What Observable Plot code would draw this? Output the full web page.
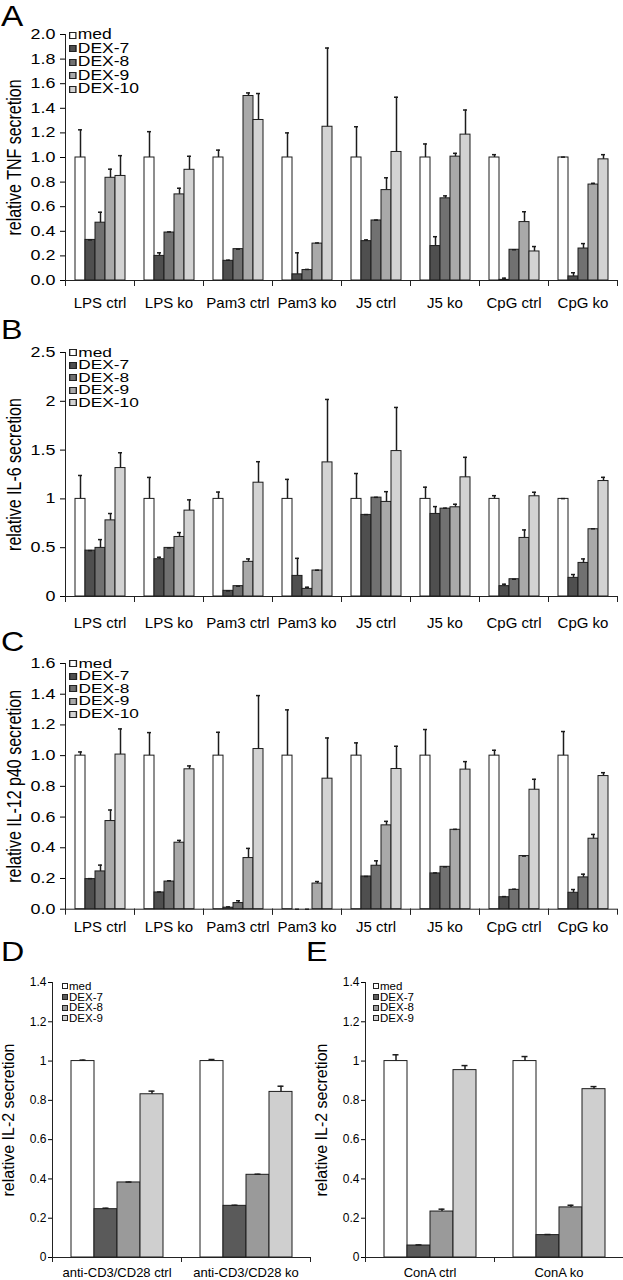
<!DOCTYPE html>
<html>
<head>
<meta charset="utf-8">
<script src="https://cdn.jsdelivr.net/npm/d3@7"></script>
<script src="https://cdn.jsdelivr.net/npm/@observablehq/plot@0.6"></script>
<style>
  html, body { margin: 0; padding: 0; background: #fff; }
  #root { position: relative; width: 623px; height: 1280px; overflow: hidden; background: #fff;
          font-family: "Liberation Sans", Arial, Helvetica, sans-serif; color: #000; }
  .panel { position: absolute; }
  .letter { position: absolute; line-height: 1; transform-origin: left top; }
  .legend { position: absolute; transform-origin: left top; white-space: nowrap; }
  .legend .row { display: flex; align-items: center; }
  .legend .sw { box-sizing: border-box; border: 1px solid #222; margin-right: 1px; flex: none; }
</style>
</head>
<body>
<div id="root"></div>
<script>
// ---------------- data ----------------
const tlrGroups = ["LPS ctrl", "LPS ko", "Pam3 ctrl", "Pam3 ko", "J5 ctrl", "J5 ko", "CpG ctrl", "CpG ko"];
const dexSeries5 = ["med", "DEX-7", "DEX-8", "DEX-9", "DEX-10"];
const dexColors5 = ["#ffffff", "#4f4f4f", "#717171", "#a9a9a9", "#d3d3d3"];

// panel A: relative TNF secretion (rows = groups, columns = series)
const tnfMean = [
  [1, 0.33, 0.47, 0.835, 0.85],
  [1, 0.20, 0.39, 0.70, 0.90],
  [1, 0.16, 0.255, 1.50, 1.305],
  [1, 0.05, 0.085, 0.30, 1.25],
  [1, 0.32, 0.488, 0.735, 1.045],
  [1, 0.28, 0.668, 1.007, 1.186],
  [1, 0.005, 0.25, 0.475, 0.236],
  [1, 0.033, 0.26, 0.78, 0.985]
];
const tnfErr = [
  [0.225, 0, 0.085, 0.07, 0.165],
  [0.21, 0.025, 0.005, 0.05, 0.11],
  [0.06, 0.005, 0, 0.025, 0.215],
  [0.2, 0.175, 0.005, 0.005, 0.64],
  [0.25, 0.01, 0.003, 0.10, 0.445],
  [0.11, 0.076, 0.02, 0.027, 0.2],
  [0.023, 0.014, 0, 0.084, 0.04],
  [0.003, 0.03, 0.04, 0.01, 0.038]
];
const tnfTicks = [0, 0.2, 0.4, 0.6, 0.8, 1.0, 1.2, 1.4, 1.6, 1.8, 2.0];

// panel B: relative IL-6 secretion
const il6Mean = [
  [1, 0.47, 0.498, 0.78, 1.316],
  [1, 0.382, 0.498, 0.61, 0.88],
  [1, 0.058, 0.106, 0.355, 1.166],
  [1, 0.211, 0.078, 0.266, 1.374],
  [1, 0.836, 1.013, 0.969, 1.49],
  [1, 0.846, 0.90, 0.914, 1.221],
  [1, 0.106, 0.177, 0.60, 1.027],
  [1, 0.191, 0.344, 0.689, 1.183]
];
const il6Err = [
  [0.24, 0, 0.085, 0.07, 0.157],
  [0.22, 0.02, 0, 0.045, 0.11],
  [0.07, 0, 0, 0.03, 0.215],
  [0.2, 0.18, 0.017, 0.003, 0.645],
  [0.26, 0.003, 0.003, 0.105, 0.447],
  [0.12, 0.075, 0.005, 0.031, 0.205],
  [0.033, 0.02, 0, 0.082, 0.041],
  [0.003, 0.034, 0.041, 0.005, 0.038]
];
const il6Ticks = [0, 0.5, 1, 1.5, 2, 2.5];

// panel C: relative IL-12 p40 secretion
const il12Mean = [
  [1, 0.196, 0.246, 0.574, 1.007],
  [1, 0.109, 0.18, 0.433, 0.911],
  [1, 0.01, 0.04, 0.333, 1.043],
  [1, 0, 0, 0.167, 0.85],
  [1, 0.213, 0.283, 0.546, 0.913],
  [1, 0.233, 0.276, 0.517, 0.909],
  [1, 0.078, 0.126, 0.346, 0.778],
  [1, 0.107, 0.207, 0.459, 0.867]
];
const il12Err = [
  [0.024, 0.003, 0.041, 0.072, 0.167],
  [0.15, 0.003, 0.005, 0.015, 0.022],
  [0.152, 0.005, 0.015, 0.063, 0.348],
  [0.298, 0, 0, 0.013, 0.265],
  [0.083, 0, 0.032, 0.026, 0.148],
  [0.17, 0.003, 0, 0.003, 0.052],
  [0.035, 0.004, 0.004, 0, 0.068],
  [0.157, 0.021, 0.021, 0.028, 0.022]
];
const il12Ticks = [0, 0.2, 0.4, 0.6, 0.8, 1.0, 1.2, 1.4, 1.6];

// panels D and E: relative IL-2 secretion
const dexSeries4 = ["med", "DEX-7", "DEX-8", "DEX-9"];
const dexColors4 = ["#ffffff", "#5a5a5a", "#9a9a9a", "#cfcfcf"];
const tcellGroupsD = ["anti-CD3/CD28 ctrl", "anti-CD3/CD28 ko"];
const il2MeanD = [[1, 0.246, 0.382, 0.831], [1, 0.263, 0.421, 0.843]];
const il2ErrD = [[0.005, 0.005, 0.002, 0.016], [0.008, 0.003, 0.003, 0.029]];
const tcellGroupsE = ["ConA ctrl", "ConA ko"];
const il2MeanE = [[1, 0.061, 0.234, 0.954], [1, 0.114, 0.255, 0.857]];
const il2ErrE = [[0.032, 0.003, 0.012, 0.023], [0.023, 0.003, 0.011, 0.013]];
const il2Ticks = [0, 0.2, 0.4, 0.6, 0.8, 1, 1.2, 1.4];

// ---------------- drawing ----------------
const root = document.getElementById("root");
const FONT = "'Liberation Sans', Arial, Helvetica, sans-serif";

function rowsOf(groups, series, mean, err) {
  const rows = [];
  groups.forEach((g, gi) => series.forEach((s, si) => {
    rows.push({group: g, series: s, value: mean[gi][si], upper: mean[gi][si] + err[gi][si]});
  }));
  return rows;
}

function panel(cfg) {
  const rows = rowsOf(cfg.groups, cfg.series, cfg.mean, cfg.err);
  const plotH = cfg.height - cfg.mt - cfg.mb;
  const svg = Plot.plot({
    width: cfg.width, height: cfg.height,
    marginLeft: cfg.ml, marginRight: cfg.mr, marginTop: cfg.mt, marginBottom: cfg.mb,
    style: {fontFamily: FONT, fontSize: cfg.tickFont + "px", color: "#000", background: "transparent", overflow: "visible"},
    fx: {domain: cfg.groups, padding: 0, axis: "bottom", label: null, tickSize: 0, tickPadding: cfg.catPad},
    x: {domain: cfg.series, paddingInner: 0, paddingOuter: cfg.po, axis: null},
    y: {domain: [0, cfg.ticks[cfg.ticks.length - 1]], ticks: cfg.ticks, tickFormat: cfg.fmt,
        tickSize: cfg.tickSize, tickPadding: cfg.tickPad,
        label: cfg.label, labelAnchor: "center", labelArrow: "none", labelOffset: cfg.labelOffset},
    color: {domain: cfg.series, range: cfg.colors},
    marks: [
      Plot.barY(rows, {fx: "group", x: "series", y: "value", fill: "series", stroke: "#1c1c1c", strokeWidth: 1}),
      Plot.ruleX(rows, {fx: "group", x: "series", y1: "value", y2: "upper", stroke: "#1c1c1c", strokeWidth: 1.5}),
      Plot.tickY(rows, {fx: "group", x: "series", y: "upper", stroke: "#1c1c1c", strokeWidth: 1.5, insetLeft: cfg.capInset, insetRight: cfg.capInset}),
      Plot.ruleY([0], {stroke: "#222"}),
      // y-axis line, drawn in the first facet only
      Plot.frame({anchor: "left", fx: () => cfg.groups[0], stroke: "#222", strokeWidth: 1}),
      // category separators below the baseline
      Plot.frame({anchor: "left", insetTop: plotH, insetBottom: -cfg.sepLen, stroke: "#222"}),
      Plot.frame({anchor: "right", insetTop: plotH, insetBottom: -cfg.sepLen, stroke: "#222"})
    ]
  });
  const sel = d3.select(svg);
  if (cfg.stretch && cfg.stretch !== 1) {
    sel.selectAll('g[aria-label="y-axis tick label"] text').each(function() {
      const t = this.getAttribute("transform") || "";
      this.setAttribute("transform", t + ` scale(${cfg.stretch},1)`);
    });
    sel.selectAll('g[aria-label="y-axis label"] text').each(function() {
      const t = this.getAttribute("transform") || "";
      this.setAttribute("transform", t + ` scale(1,${cfg.stretch})`);
    });
  }
  sel.selectAll('g[aria-label="y-axis label"] text').style("font-size", cfg.labelFont + "px");
  sel.selectAll('g[aria-label="fx-axis tick label"] text').style("font-size", cfg.catFont + "px");
  const wrap = document.createElement("div");
  wrap.className = "panel";
  wrap.style.left = cfg.left + "px";
  wrap.style.top = cfg.top + "px";
  wrap.appendChild(svg);
  root.appendChild(wrap);

  // panel letter
  const L = document.createElement("div");
  L.className = "letter";
  L.textContent = cfg.letter;
  L.style.left = cfg.letterX + "px";
  L.style.top = cfg.letterY + "px";
  L.style.fontSize = cfg.letterSize + "px";
  L.style.transform = "scaleX(1.15)";
  root.appendChild(L);

  // legend
  const lg = document.createElement("div");
  lg.className = "legend";
  lg.style.left = cfg.legX + "px";
  lg.style.top = cfg.legY + "px";
  lg.style.fontSize = cfg.legFont + "px";
  lg.style.lineHeight = cfg.legLine + "px";
  if (cfg.legStretch) lg.style.transform = `scaleX(${cfg.legStretch})`;
  cfg.series.forEach((s, i) => {
    const r = document.createElement("div");
    r.className = "row";
    const sw = document.createElement("span");
    sw.className = "sw";
    sw.style.width = cfg.swW + "px";
    sw.style.height = cfg.swH + "px";
    sw.style.background = cfg.colors[i];
    const tx = document.createElement("span");
    tx.textContent = s;
    r.appendChild(sw); r.appendChild(tx);
    lg.appendChild(r);
  });
  root.appendChild(lg);
}

const f1 = d3.format(".1f");
const fg = d3.format("~g");
const common5 = {
  groups: tlrGroups, series: dexSeries5, colors: dexColors5,
  left: 0, width: 623, ml: 61, mr: 3, po: 0.73,
  tickFont: 14, tickSize: 5, tickPad: 5, stretch: 1.28,
  labelFont: 16, labelOffset: 59, catFont: 15,
  capInset: 3, sepLen: 5,
  letterX: 1, letterSize: 28,
  legX: 69, legFont: 14, legStretch: 1.25, swW: 6, swH: 7
};

panel({...common5, letter: "A", letterY: 2, letterSize: 29,
  top: 0, height: 312, mt: 34, mb: 32, catPad: 17,
  mean: tnfMean, err: tnfErr, ticks: tnfTicks, fmt: f1, label: "relative TNF secretion",
  legY: 28.4, legLine: 13.5});

panel({...common5, letter: "B", letterY: 316,
  top: 312, height: 316, mt: 40, mb: 32, catPad: 21,
  mean: il6Mean, err: il6Err, ticks: il6Ticks, fmt: fg, label: "relative IL-6 secretion",
  legY: 346.5, legLine: 12.5, legFont: 13, legStretch: 1.33});

panel({...common5, letter: "C", letterY: 628,
  top: 628, height: 312, mt: 35, mb: 31.3, catPad: 12,
  mean: il12Mean, err: il12Err, ticks: il12Ticks, fmt: f1, label: "relative IL-12 p40 secretion",
  legY: 657.5, legLine: 12.6, legFont: 12.8, legStretch: 1.35});

const common4 = {
  series: dexSeries4, colors: dexColors4,
  top: 940, height: 340, mt: 42, mb: 23, po: 0.72,
  tickFont: 12, tickSize: 4, tickPad: 2, stretch: 1,
  labelFont: 16, labelOffset: 50, catFont: 13, catPad: 10,
  capInset: 8.5, sepLen: 4, fmt: fg, ticks: il2Ticks, label: "relative IL-2 secretion",
  letterSize: 28, letterY: 938,
  legFont: 11.5, legLine: 10.7, legY: 980.8, swW: 6, swH: 6
};

panel({...common4, letter: "D", letterX: 1,
  groups: tcellGroupsD, mean: il2MeanD, err: il2ErrD,
  left: 0, width: 312, ml: 52, mr: 2, legX: 62});

panel({...common4, letter: "E", letterX: 306,
  groups: tcellGroupsE, mean: il2MeanE, err: il2ErrE,
  left: 312, width: 311, ml: 52, mr: 0, legX: 373});
</script>
</body>
</html>
